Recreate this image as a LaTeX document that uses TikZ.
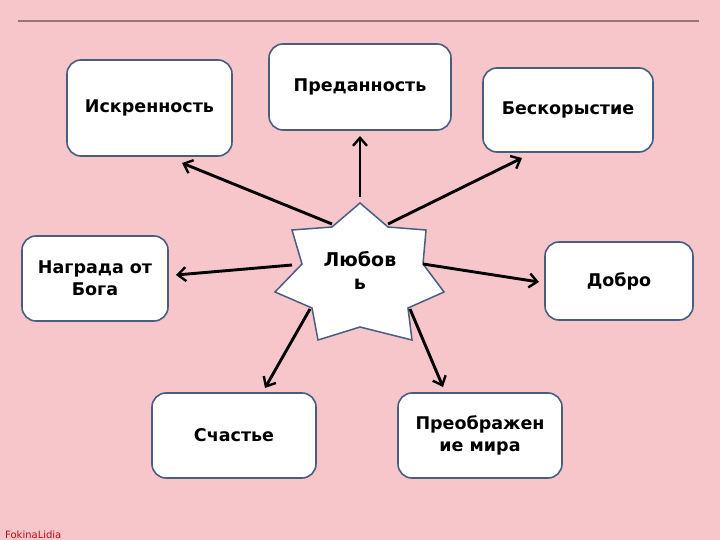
\documentclass[tikz,border=0pt]{standalone}
\usepackage{fontspec}
\setmainfont{DejaVu Sans}
\usetikzlibrary{arrows.meta}
\definecolor{bgpink}{RGB}{246,198,203}
\definecolor{boxline}{RGB}{72,94,128}
\definecolor{ruleline}{RGB}{150,118,120}
\definecolor{signred}{RGB}{185,10,20}
\tikzset{
  box/.style={draw=boxline, line width=1.6pt, fill=white, rounded corners=14pt,
    inner sep=0pt, align=center, font=\fontsize{17.5}{22}\selectfont\bfseries},
  conn/.style={line width=2.9pt, -{Straight Barb[length=8pt,width=14pt,line width=2.4pt]}},
  starshape/.style={draw=boxline, line width=1.5pt, fill=white, line join=miter}
}
\begin{document}
\begin{tikzpicture}[x=1pt,y=-1pt]
\useasboundingbox (0,0) rectangle (720,540);
\fill[bgpink] (0,0) rectangle (720,540);
\coordinate (r1) at (18,21);
\coordinate (r2) at (699,21);
\draw[ruleline, line width=1.8pt] (r1) -- (r2);

% boxes
\node[box, minimum width=165pt, minimum height=96pt] (isk) at (149.5,108) {Искренность};
\node[box, minimum width=182pt, minimum height=86pt] (pred) at (360,87) {Преданность};
\node[box, minimum width=170pt, minimum height=84pt] (besk) at (568,110) {Бескорыстие};
\node[box, minimum width=146pt, minimum height=85pt] (nagr) at (95,278.5) {Награда от\\Бога};
\node[box, minimum width=148pt, minimum height=78pt] (dobro) at (619,281) {Добро};
\node[box, minimum width=164pt, minimum height=85pt] (schast) at (234,435.5) {Счастье};
\node[box, minimum width=164pt, minimum height=85pt] (preobr) at (480,435.5) {Преображен\\ие мира};

% star
\draw[starshape] (360,203) -- (388,227) -- (426,230) -- (423,264) -- (444,292) -- (408,308)
  -- (412,340) -- (360,327) -- (318,340) -- (312,308) -- (275,292) -- (302,264)
  -- (292,230) -- (332,227) -- cycle;
\node[align=center, font=\fontsize{19}{23}\selectfont\bfseries] (love) at (360,270) {Любов\\ь};

% arrow ends
\coordinate (s1) at (332,224);
\coordinate (s2) at (360,197);
\coordinate (s3) at (388,224);
\coordinate (s4) at (292,265);
\coordinate (s5) at (423,264);
\coordinate (s6) at (310,309);
\coordinate (s7) at (410,309);
\coordinate (t1) at (182,163);
\coordinate (t2) at (360,136);
\coordinate (t3) at (522,158);
\coordinate (t4) at (176,275);
\coordinate (t5) at (539,282);
\coordinate (t6) at (265,388);
\coordinate (t7) at (443,387);
\draw[conn] (s1) -- (t1);
\draw[conn] (s2) -- (t2);
\draw[conn] (s3) -- (t3);
\draw[conn] (s4) -- (t4);
\draw[conn] (s5) -- (t5);
\draw[conn] (s6) -- (t6);
\draw[conn] (s7) -- (t7);

\node[anchor=base west, inner sep=0pt, text=signred, font=\fontsize{10}{11}\selectfont] (sig) at (5,538) {FokinaLidia};
\end{tikzpicture}
\end{document}
